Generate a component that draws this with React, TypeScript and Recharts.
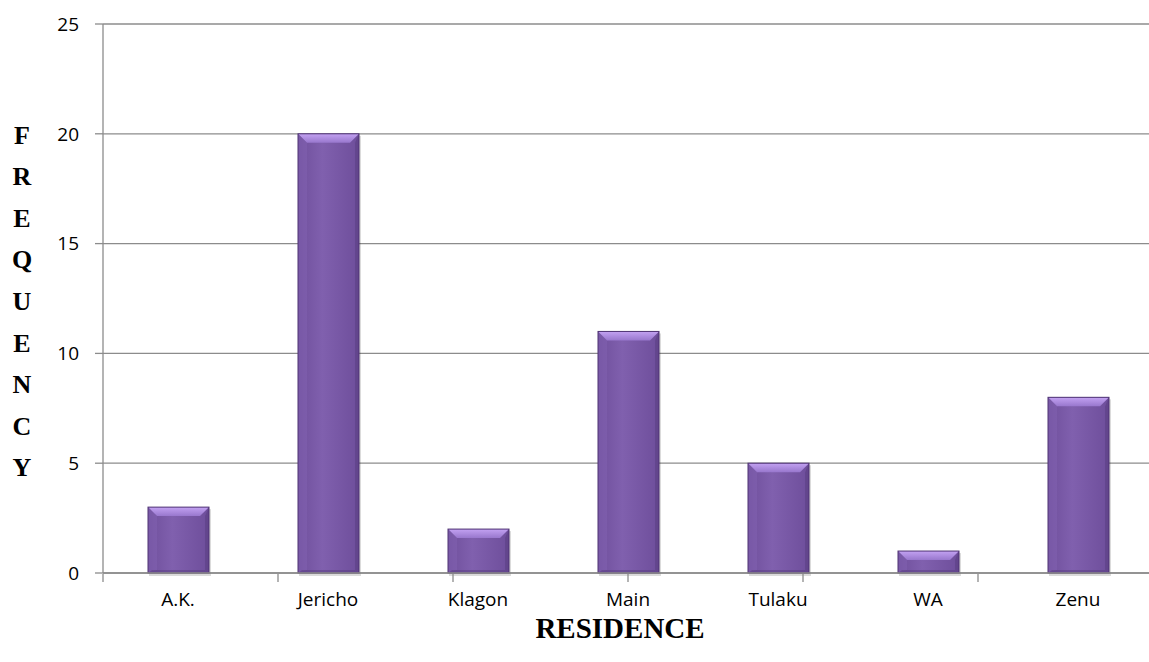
import React from 'react';
import { BarChart, Bar, XAxis, YAxis, CartesianGrid, Label } from 'recharts';

const residences = ['A.K.', 'Jericho', 'Klagon', 'Main', 'Tulaku', 'WA', 'Zenu'];
const frequency = [3, 20, 2, 11, 5, 1, 8];
const yTicks = [0, 5, 10, 15, 20, 25];
const edgeTicks = [0, 1, 2, 3, 4, 5, 6, 7];
const yTitle = 'FREQUENCY';
const xTitle = 'RESIDENCE';

const chartData = residences.map((name, i) => ({ name, value: frequency[i] }));

const GRID = '#8c8c8c';
const TICK_FONT = '"Open Sans", sans-serif';
const TITLE_FONT = '"Liberation Serif", "Times New Roman", serif';

// beveled purple bar, like the old Excel "bevel" style
function BevelBar(props: any) {
    const { x, y, width: w, height: h, index } = props;
    if (!h || h <= 0) return null;
    const b = Math.min(9, h / 2, w / 2);
    const id = `bb-${index}`;
    return (
        <g>
            <defs>
                <linearGradient id={`${id}-body`} x1="0" y1="0" x2="1" y2="0">
                    <stop offset="0%" stopColor="#6f4f9c" />
                    <stop offset="40%" stopColor="#8060ae" />
                    <stop offset="100%" stopColor="#6e4e9b" />
                </linearGradient>
                <linearGradient id={`${id}-top`} x1="0" y1="0" x2="0" y2="1">
                    <stop offset="0%" stopColor="#c3a2f2" />
                    <stop offset="100%" stopColor="#9877cd" />
                </linearGradient>
            </defs>
            <rect x={x + 1} y={y + 2} width={w + 1} height={h + 1} fill="rgba(0,0,0,0.14)" />
            <rect x={x} y={y} width={w} height={h} fill={`url(#${id}-body)`} />
            <polygon points={`${x},${y} ${x + w},${y} ${x + w - b},${y + b} ${x + b},${y + b}`} fill={`url(#${id}-top)`} />
            <polygon points={`${x},${y} ${x + b},${y + b} ${x + b},${y + h - 3} ${x},${y + h}`} fill="#8a69ba" opacity={0.35} />
            <polygon points={`${x + w},${y} ${x + w},${y + h} ${x + w - 4},${y + h - 3} ${x + w - 4},${y + b}`} fill="#543a7c" opacity={0.45} />
            <polygon points={`${x},${y + h} ${x + w},${y + h} ${x + w - 4},${y + h - 3} ${x + 4},${y + h - 3}`} fill="#553a7d" opacity={0.45} />
            <rect x={x} y={y} width={w} height={h} fill="none" stroke="#4e3373" strokeWidth={1} />
        </g>
    );
}

function YTitle({ viewBox }: any) {
    const cx = 22;
    const mid = viewBox.y + viewBox.height / 2 + 3;
    const step = 41.6;
    const letters = yTitle.split('');
    return (
        <text fontFamily={TITLE_FONT} fontWeight="bold" fontSize={26} fill="#000" textAnchor="middle">
            {letters.map((ch, i) => (
                <tspan key={i} x={cx} y={mid + (i - (letters.length - 1) / 2) * step} dominantBaseline="central">
                    {ch}
                </tspan>
            ))}
        </text>
    );
}

function XTitle({ viewBox }: any) {
    const cx = viewBox.x + viewBox.width / 2 - 8;
    return (
        <text x={cx} y={viewBox.y + 65} fontFamily={TITLE_FONT} fontWeight="bold" fontSize={29} fill="#000" textAnchor="middle">
            {xTitle}
        </text>
    );
}

export default function App() {
    return (
        <div style={{ position: 'absolute', left: 0, top: 0, width: 1149, height: 662, overflow: 'hidden', background: '#fff' }}>
            <BarChart width={1160} height={662} data={chartData} margin={{ top: 24, right: 7, bottom: 87, left: 0 }}>
                <CartesianGrid vertical={false} stroke={GRID} strokeWidth={1.3} />
                <XAxis
                    dataKey="name"
                    height={1}
                    axisLine={{ stroke: GRID, strokeWidth: 1.3 }}
                    tickLine={false}
                    tickSize={0}
                    tickMargin={20}
                    tick={{ fill: '#000', fontSize: 19, fontFamily: TICK_FONT }}
                    interval={0}
                >
                    <Label content={<XTitle />} />
                </XAxis>
                <XAxis
                    xAxisId="edges"
                    type="number"
                    domain={[0, 7]}
                    ticks={edgeTicks}
                    height={1}
                    axisLine={false}
                    tickSize={8}
                    tickLine={{ stroke: GRID, strokeWidth: 1.3 }}
                    tickFormatter={() => ''}
                />
                <YAxis
                    width={103}
                    domain={[0, 25]}
                    ticks={yTicks}
                    interval={0}
                    axisLine={{ stroke: GRID, strokeWidth: 1.3 }}
                    tickLine={{ stroke: GRID, strokeWidth: 1.3 }}
                    tickSize={8}
                    tickMargin={16}
                    tick={{ fill: '#000', fontSize: 19, fontFamily: TICK_FONT }}
                >
                    <Label content={<YTitle />} />
                </YAxis>
                <Bar dataKey="value" barSize={61} shape={<BevelBar />} isAnimationActive={false} />
            </BarChart>
        </div>
    );
}
